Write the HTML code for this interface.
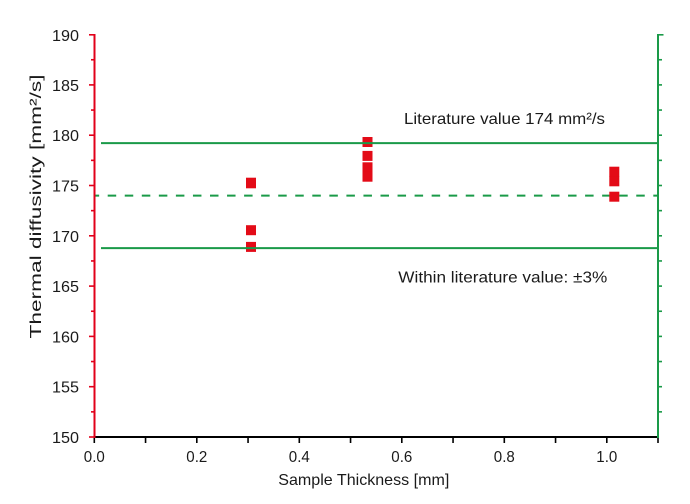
<!DOCTYPE html>
<html>
<head>
<meta charset="utf-8">
<style>
html,body{margin:0;padding:0;background:#fff;}
svg{display:block;}
text{font-family:"Liberation Sans","DejaVu Sans",sans-serif;fill:#1a1a1a;}
</style>
</head>
<body>
<svg width="690" height="504" viewBox="0 0 690 504" xmlns="http://www.w3.org/2000/svg">
  <rect width="690" height="504" fill="#fff"/>

  <!-- dashed literature line -->
  <line x1="95" y1="195.6" x2="658" y2="195.6" stroke="#1a9a48" stroke-width="2" stroke-dasharray="8.5 8.55" stroke-dashoffset="4.35"/>

  <!-- markers -->
  <g fill="#e30b17">
    <rect x="246" y="177.7" width="10" height="10"/>
    <rect x="246" y="178.3" width="10" height="10"/>
    <rect x="246" y="225.2" width="10" height="10"/>
    <rect x="246" y="241.9" width="10" height="10"/>
    <rect x="362.5" y="137" width="10" height="10"/>
    <rect x="362.5" y="150.9" width="10" height="10"/>
    <rect x="362.5" y="162.3" width="10" height="10"/>
    <rect x="362.5" y="171.7" width="10" height="10"/>
    <rect x="609.3" y="166.7" width="10" height="10"/>
    <rect x="609.3" y="176.3" width="10" height="10"/>
    <rect x="609.3" y="191.7" width="10" height="10"/>
  </g>

  <!-- solid ±3% lines -->
  <line x1="101" y1="143.1" x2="658" y2="143.1" stroke="#1a9a48" stroke-width="2"/>
  <line x1="101" y1="248.1" x2="658" y2="248.1" stroke="#1a9a48" stroke-width="2"/>

  <!-- x axis -->
  <line x1="94" y1="437" x2="658" y2="437" stroke="#000" stroke-width="2"/>
  <g stroke="#000" stroke-width="1.6">
    <line x1="94.3" y1="437" x2="94.3" y2="443"/>
    <line x1="145.55" y1="437" x2="145.55" y2="443"/>
    <line x1="196.8" y1="437" x2="196.8" y2="443"/>
    <line x1="248.05" y1="437" x2="248.05" y2="443"/>
    <line x1="299.3" y1="437" x2="299.3" y2="443"/>
    <line x1="350.55" y1="437" x2="350.55" y2="443"/>
    <line x1="401.8" y1="437" x2="401.8" y2="443"/>
    <line x1="453.05" y1="437" x2="453.05" y2="443"/>
    <line x1="504.3" y1="437" x2="504.3" y2="443"/>
    <line x1="555.55" y1="437" x2="555.55" y2="443"/>
    <line x1="606.8" y1="437" x2="606.8" y2="443"/>
    <line x1="658" y1="437" x2="658" y2="443"/>
  </g>

  <!-- left axis (red) -->
  <line x1="94.5" y1="34" x2="94.5" y2="438" stroke="#e2001a" stroke-width="2"/>
  <g stroke="#e2001a" stroke-width="1.6">
    <line x1="89" y1="437" x2="94.5" y2="437"/>
    <line x1="91" y1="411.85" x2="94.5" y2="411.85"/>
    <line x1="89" y1="386.7" x2="94.5" y2="386.7"/>
    <line x1="91" y1="361.55" x2="94.5" y2="361.55"/>
    <line x1="89" y1="336.4" x2="94.5" y2="336.4"/>
    <line x1="91" y1="311.25" x2="94.5" y2="311.25"/>
    <line x1="89" y1="286.1" x2="94.5" y2="286.1"/>
    <line x1="91" y1="260.95" x2="94.5" y2="260.95"/>
    <line x1="89" y1="235.8" x2="94.5" y2="235.8"/>
    <line x1="91" y1="210.65" x2="94.5" y2="210.65"/>
    <line x1="89" y1="185.5" x2="94.5" y2="185.5"/>
    <line x1="91" y1="160.35" x2="94.5" y2="160.35"/>
    <line x1="89" y1="135.2" x2="94.5" y2="135.2"/>
    <line x1="91" y1="110.05" x2="94.5" y2="110.05"/>
    <line x1="89" y1="84.9" x2="94.5" y2="84.9"/>
    <line x1="91" y1="59.75" x2="94.5" y2="59.75"/>
    <line x1="89" y1="34.8" x2="94.5" y2="34.8"/>
  </g>

  <!-- right axis (green) -->
  <line x1="658" y1="34" x2="658" y2="438" stroke="#1a9a48" stroke-width="2"/>
  <g stroke="#1a9a48" stroke-width="1.6">
    <line x1="658" y1="411.85" x2="662" y2="411.85"/>
    <line x1="658" y1="386.7" x2="662" y2="386.7"/>
    <line x1="658" y1="361.55" x2="662" y2="361.55"/>
    <line x1="658" y1="336.4" x2="662" y2="336.4"/>
    <line x1="658" y1="311.25" x2="662" y2="311.25"/>
    <line x1="658" y1="286.1" x2="662" y2="286.1"/>
    <line x1="658" y1="260.95" x2="662" y2="260.95"/>
    <line x1="658" y1="235.8" x2="662" y2="235.8"/>
    <line x1="658" y1="210.65" x2="662" y2="210.65"/>
    <line x1="658" y1="185.5" x2="662" y2="185.5"/>
    <line x1="658" y1="160.35" x2="662" y2="160.35"/>
    <line x1="658" y1="135.2" x2="662" y2="135.2"/>
    <line x1="658" y1="110.05" x2="662" y2="110.05"/>
    <line x1="658" y1="84.9" x2="662" y2="84.9"/>
    <line x1="658" y1="59.75" x2="662" y2="59.75"/>
    <line x1="658" y1="34.8" x2="663.5" y2="34.8"/>
  </g>

  <!-- y tick labels -->
  <g font-size="16" text-anchor="end">
    <text x="79" y="443" textLength="27" lengthAdjust="spacingAndGlyphs">150</text>
    <text x="79" y="392.7" textLength="27" lengthAdjust="spacingAndGlyphs">155</text>
    <text x="79" y="342.4" textLength="27" lengthAdjust="spacingAndGlyphs">160</text>
    <text x="79" y="292.1" textLength="27" lengthAdjust="spacingAndGlyphs">165</text>
    <text x="79" y="241.8" textLength="27" lengthAdjust="spacingAndGlyphs">170</text>
    <text x="79" y="191.5" textLength="27" lengthAdjust="spacingAndGlyphs">175</text>
    <text x="79" y="141.2" textLength="27" lengthAdjust="spacingAndGlyphs">180</text>
    <text x="79" y="90.9" textLength="27" lengthAdjust="spacingAndGlyphs">185</text>
    <text x="79" y="40.8" textLength="27" lengthAdjust="spacingAndGlyphs">190</text>
  </g>

  <!-- x tick labels -->
  <g font-size="16" text-anchor="middle">
    <text x="94.3" y="462" textLength="21" lengthAdjust="spacingAndGlyphs">0.0</text>
    <text x="196.8" y="462" textLength="21" lengthAdjust="spacingAndGlyphs">0.2</text>
    <text x="299.3" y="462" textLength="21" lengthAdjust="spacingAndGlyphs">0.4</text>
    <text x="401.8" y="462" textLength="21" lengthAdjust="spacingAndGlyphs">0.6</text>
    <text x="504.3" y="462" textLength="21" lengthAdjust="spacingAndGlyphs">0.8</text>
    <text x="606.8" y="462" textLength="21" lengthAdjust="spacingAndGlyphs">1.0</text>
  </g>

  <!-- axis titles -->
  <text x="278.3" y="485" font-size="16" textLength="171" lengthAdjust="spacingAndGlyphs">Sample Thickness [mm]</text>
  <text transform="translate(41,206.5) rotate(-90)" font-size="16" text-anchor="middle" textLength="264" lengthAdjust="spacingAndGlyphs">Thermal diffusivity [mm²/s]</text>

  <!-- annotations -->
  <text x="404" y="124" font-size="16" textLength="201" lengthAdjust="spacingAndGlyphs">Literature value 174 mm²/s</text>
  <text x="398.3" y="282.3" font-size="16" textLength="209" lengthAdjust="spacingAndGlyphs">Within literature value: ±3%</text>
</svg>
</body>
</html>
